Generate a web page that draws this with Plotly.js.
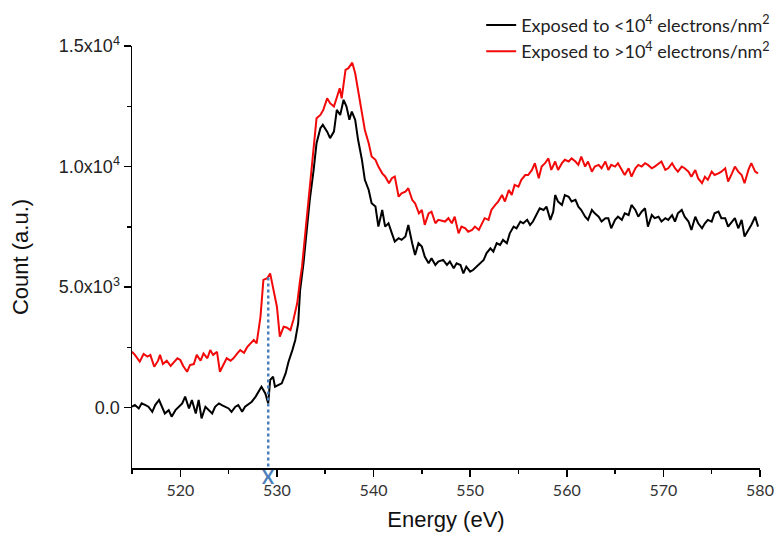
<!DOCTYPE html>
<html>
<head>
<meta charset="utf-8">
<script src="https://cdn.plot.ly/plotly-3.0.1.min.js"></script>
<style>html,body{margin:0;padding:0;background:#fff;}#chart{width:777px;height:537px;}</style>
</head>
<body>
<div id="chart"></div>
<script>
// Energy (eV) and counts for the spectrum exposed to < 10^4 electrons/nm^2
const lowDoseEnergy = [
515.0,515.3,515.7,516.0,516.4,516.7,517.1,517.4,517.8,518.1,518.4,518.8,519.1,519.5,519.8,520.2,520.5,520.9,521.2,521.6,
521.9,522.2,522.6,522.9,523.3,523.6,524.0,524.3,524.7,525.0,525.3,525.7,526.0,526.4,526.7,527.1,527.4,527.8,528.1,528.4,
528.8,529.1,529.3,529.6,529.8,530.2,530.5,530.9,531.2,531.6,531.9,532.2,532.4,532.75,533.1,533.4,533.8,534.1,534.5,534.75,
535.2,535.5,535.9,536.2,536.55,536.9,537.2,537.5,537.75,538.1,538.4,538.8,539.1,539.5,539.8,540.2,540.5,540.9,541.2,541.55,
541.9,542.2,542.6,542.9,543.3,543.6,544.0,544.3,544.65,545.0,545.3,545.7,546.0,546.4,546.7,547.2,547.6,547.9,548.3,548.6,
549.0,549.3,549.6,550.0,550.3,550.7,551.0,551.4,551.7,552.1,552.4,552.75,553.1,553.4,553.8,554.1,554.5,554.8,555.2,555.5,
555.9,556.2,556.5,556.9,557.2,557.6,557.9,558.3,558.6,558.8,559.1,559.5,559.8,560.2,560.5,560.9,561.2,561.5,561.9,562.2,
562.6,562.9,563.3,563.6,564.0,564.3,564.6,565.0,565.3,565.7,566.0,566.4,566.7,567.1,567.4,567.75,568.1,568.4,568.8,569.1,
569.5,569.8,570.2,570.5,570.9,571.2,571.5,571.9,572.2,572.6,572.9,573.3,573.6,574.0,574.3,574.6,575.0,575.3,575.7,576.0,
576.4,576.7,577.1,577.4,577.75,578.1,578.4,578.8,579.1,579.5,579.8
];
const lowDoseCount = [
40,110,-30,180,110,40,-170,110,320,40,-240,-100,-370,-100,40,180,460,-30,320,-240,
320,-440,40,-100,-240,40,180,110,40,-30,-170,40,110,-170,40,180,250,460,660,870,
590,180,1150,1290,870,940,1010,1420,1910,2390,2810,3500,4880,5990,7370,8620,9860,10970,11590,11730,
11450,11180,11450,12350,12140,12770,12490,11940,12280,11940,11110,10280,9450,9030,8480,8340,7510,8200,7510,7650,
7230,6890,7030,6960,7100,7580,6820,6330,6820,6680,6270,5990,6200,5920,6060,6130,5920,6060,5780,5990,
5920,5570,5850,5640,5710,5850,5990,6130,6410,6610,6470,6820,6750,6960,6820,7230,7510,7440,7720,7650,
7790,7580,7720,8060,8270,8200,8340,7790,8130,8820,8550,8410,8820,8750,8550,8620,8340,8200,7920,7790,
8200,8060,7920,7720,7860,7860,7440,7790,7920,7790,8060,7990,8410,8200,7920,8130,8270,7510,7990,7860,
7920,7720,7860,7790,7990,7720,8060,8200,7920,7720,7370,7920,7650,7440,7650,7790,7720,8060,8130,7860,
7860,7510,7720,7860,7440,7790,7100,7370,7580,7920,7510
];

// Energy (eV) and counts for the spectrum exposed to > 10^4 electrons/nm^2
const highDoseEnergy = [
515.0,515.3,515.8,516.2,516.6,516.9,517.3,517.7,517.9,518.2,518.6,519.0,519.3,519.7,520.0,520.3,520.7,521.0,521.4,521.7,
522.1,522.4,522.8,523.1,523.4,523.8,524.1,524.5,524.8,525.2,525.5,525.9,526.2,526.6,526.9,527.2,527.6,527.9,528.3,528.6,
529.0,529.3,529.7,530.0,530.3,530.7,531.0,531.4,531.7,532.1,532.4,532.6,532.9,533.3,533.6,534.0,534.1,534.5,534.8,535.2,
535.5,535.9,536.2,536.5,536.7,537.1,537.4,537.8,538.1,538.4,538.8,539.1,539.5,539.8,540.2,540.5,540.9,541.2,541.6,541.9,
542.2,542.6,542.9,543.3,543.6,544.0,544.3,544.7,545.0,545.3,545.7,546.0,546.4,546.7,547.4,547.75,548.1,548.4,548.8,549.1,
549.5,549.8,550.2,550.5,550.9,551.2,551.5,551.9,552.2,552.6,552.9,553.3,553.6,554.0,554.3,554.6,555.0,555.3,555.7,556.0,
556.4,556.7,557.1,557.4,557.75,558.1,558.4,558.8,559.1,559.5,559.8,560.2,560.5,560.9,561.2,561.5,561.9,562.2,562.6,562.9,
563.3,563.6,564.0,564.3,564.6,565.0,565.3,565.7,566.0,566.4,566.7,567.1,567.4,567.75,568.1,568.4,568.8,569.1,569.5,569.8,
570.2,570.5,570.9,571.2,571.5,571.9,572.2,572.6,572.9,573.3,573.6,574.0,574.3,574.6,575.0,575.3,575.7,576.0,576.4,576.7,
577.1,577.4,577.75,578.1,578.4,578.8,579.1,579.5,579.8
];
const highDoseCount = [
2320,2190,1910,2230,2120,2190,1700,1950,2190,1810,1950,1730,1870,2050,1980,1730,1490,1770,1810,2190,
1950,2250,2050,2390,2190,2320,1490,1840,2050,1950,2050,2250,2390,2280,2500,2640,2810,2670,3780,5300,
5370,5570,4740,4190,2950,3360,3330,3220,3640,4330,5300,5850,7100,8750,10140,11520,12000,12140,12350,12830,
12630,12490,12900,13250,12830,14010,14080,14310,13870,13180,12350,11520,10970,10420,10280,10000,9720,9590,9310,9520,
9590,8750,8890,8960,9100,8620,8480,8060,8200,7580,8060,8130,7650,7790,7720,7860,7650,7920,7230,7510,
7440,7300,7370,7510,7370,7650,7860,7790,8200,8410,8550,8820,8550,9030,8820,9240,9170,9450,9650,9650,
9860,10140,9520,10000,10140,10340,9860,10210,9860,10140,10280,10210,10340,10210,10070,10410,10000,10210,9790,10000,
10070,9930,10210,9860,10070,10000,10140,9860,9650,9930,9580,9930,10070,10000,10140,10070,9930,10000,10140,10210,
9860,9930,10140,9930,9790,10000,9930,9790,9580,9860,9510,9310,9580,9450,9790,9650,9720,9790,9930,9380,
9720,10000,9790,9650,9310,9860,10140,9790,9720
];

// Pre-edge peak marker (dotted guide line down to the energy axis)
const markEnergy = [529.1, 529.1];
const markCount = [5400, -2500];
const markLabel = "X";

const seriesNames = [
  "Exposed to <10<sup>4</sup> electrons/nm<sup>2</sup>",
  "Exposed to >10<sup>4</sup> electrons/nm<sup>2</sup>"
];
const xTickVals = [520, 530, 540, 550, 560, 570, 580];
const yTickVals = [0, 5000, 10000, 15000];
const yTickText = ["0.0", "5.0x10<sup>3</sup>", "1.0x10<sup>4</sup>", "1.5x10<sup>4</sup>"];
const yMinorVals = [2500, 7500, 12500];

const traces = [
  {x: lowDoseEnergy, y: lowDoseCount, type: "scatter", mode: "lines", name: seriesNames[0],
   line: {color: "#000000", width: 2}},
  {x: highDoseEnergy, y: highDoseCount, type: "scatter", mode: "lines", name: seriesNames[1],
   line: {color: "#f20a0a", width: 2}},
  {x: markEnergy, y: markCount, type: "scatter", mode: "lines", showlegend: false, hoverinfo: "skip",
   line: {color: "#4a7ebb", width: 2.5, dash: "dot"}}
];

const layout = {
  width: 777, height: 537,
  margin: {l: 132, r: 17, t: 46, b: 69, autoexpand: false},
  paper_bgcolor: "#ffffff", plot_bgcolor: "#ffffff",
  showlegend: true,
  legend: {x: 0.556, xanchor: "left", y: 1.093, yanchor: "top", bgcolor: "rgba(0,0,0,0)",
           font: {family: "Lato, 'Noto Sans', sans-serif", size: 18, color: "#222"}, tracegroupgap: 0},
  xaxis: {
    range: [515, 580], tickmode: "array", tickvals: xTickVals,
    ticks: "outside", ticklen: 7, tickwidth: 1.5, tickcolor: "#000",
    showline: true, linecolor: "#000", linewidth: 1.5, showgrid: false, zeroline: false,
    tickfont: {family: "Lato, 'Open Sans', sans-serif", size: 16, color: "#333"},
    minor: {dtick: 5, tick0: 515, ticks: "outside", ticklen: 4, tickwidth: 1.5, tickcolor: "#000", showgrid: false},
    title: {text: "Energy (eV)", font: {family: "'Liberation Sans', Arial, sans-serif", size: 22, color: "#111"}, standoff: 14}
  },
  yaxis: {
    range: [-2500, 15000], tickmode: "array", tickvals: yTickVals, ticktext: yTickText,
    ticks: "outside", ticklen: 7, tickwidth: 1.5, tickcolor: "#000",
    showline: true, linecolor: "#000", linewidth: 1.5, showgrid: false, zeroline: false,
    tickfont: {family: "'Liberation Sans', Arial, sans-serif", size: 18, color: "#222"},
    minor: {tickvals: yMinorVals, ticks: "outside", ticklen: 4, tickwidth: 1.5, tickcolor: "#000", showgrid: false},
    title: {text: "Count (a.u.)", font: {family: "'Liberation Sans', Arial, sans-serif", size: 22, color: "#111"}, standoff: 24}
  },
  annotations: [{
    x: markEnergy[0], xref: "x", y: 0, yref: "paper", yanchor: "middle", yshift: -9,
    text: markLabel, showarrow: false,
    font: {family: "Lato, sans-serif", size: 18, color: "#4a7ebb", weight: "bold"}
  }]
};

Plotly.newPlot("chart", traces, layout, {displayModeBar: false, staticPlot: true});
</script>
</body>
</html>
